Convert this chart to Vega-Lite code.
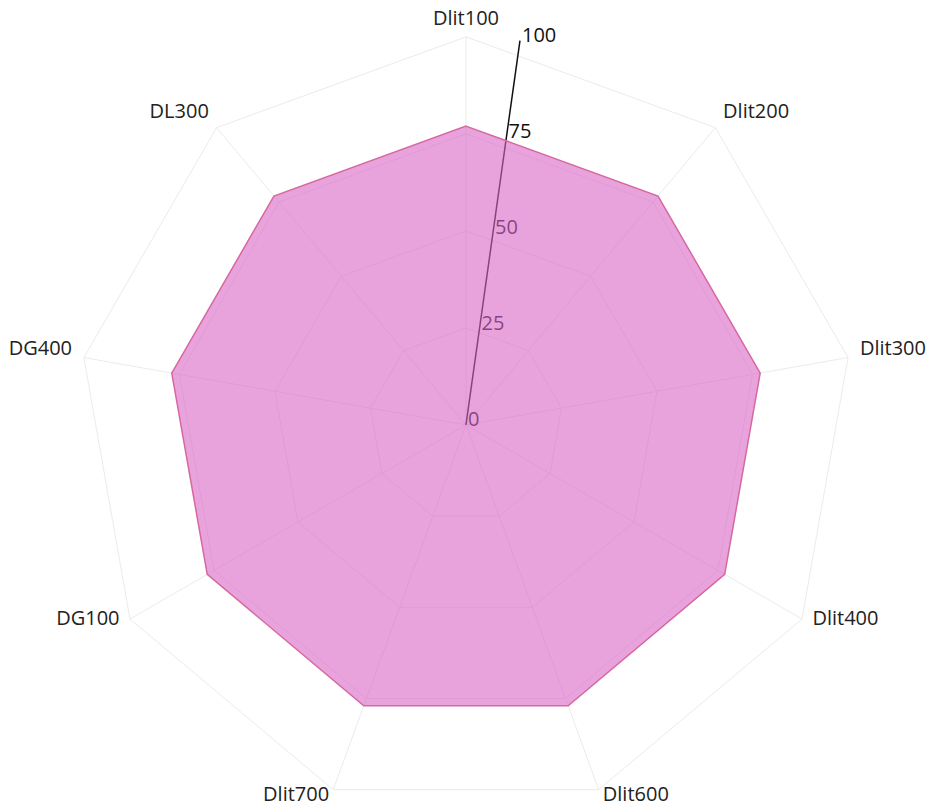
{
  "$schema": "https://vega.github.io/schema/vega-lite/v6.json",
  "width": 930,
  "height": 808,
  "padding": 0,
  "autosize": {"type": "none"},
  "background": "white",
  "config": {"view": {"stroke": null}, "font": "Open Sans"},
  "datasets": {
    "scores": [
      {"axis": "Dlit100", "value": 77},
      {"axis": "Dlit200", "value": 77},
      {"axis": "Dlit300", "value": 77},
      {"axis": "Dlit400", "value": 77},
      {"axis": "Dlit600", "value": 77},
      {"axis": "Dlit700", "value": 77},
      {"axis": "DG100", "value": 77},
      {"axis": "DG400", "value": 77},
      {"axis": "DL300", "value": 77}
    ],
    "grid": [
      {"axis": "Dlit100", "level": 25}, {"axis": "Dlit200", "level": 25}, {"axis": "Dlit300", "level": 25}, {"axis": "Dlit400", "level": 25}, {"axis": "Dlit600", "level": 25}, {"axis": "Dlit700", "level": 25}, {"axis": "DG100", "level": 25}, {"axis": "DG400", "level": 25}, {"axis": "DL300", "level": 25},
      {"axis": "Dlit100", "level": 50}, {"axis": "Dlit200", "level": 50}, {"axis": "Dlit300", "level": 50}, {"axis": "Dlit400", "level": 50}, {"axis": "Dlit600", "level": 50}, {"axis": "Dlit700", "level": 50}, {"axis": "DG100", "level": 50}, {"axis": "DG400", "level": 50}, {"axis": "DL300", "level": 50},
      {"axis": "Dlit100", "level": 75}, {"axis": "Dlit200", "level": 75}, {"axis": "Dlit300", "level": 75}, {"axis": "Dlit400", "level": 75}, {"axis": "Dlit600", "level": 75}, {"axis": "Dlit700", "level": 75}, {"axis": "DG100", "level": 75}, {"axis": "DG400", "level": 75}, {"axis": "DL300", "level": 75},
      {"axis": "Dlit100", "level": 100}, {"axis": "Dlit200", "level": 100}, {"axis": "Dlit300", "level": 100}, {"axis": "Dlit400", "level": 100}, {"axis": "Dlit600", "level": 100}, {"axis": "Dlit700", "level": 100}, {"axis": "DG100", "level": 100}, {"axis": "DG400", "level": 100}, {"axis": "DL300", "level": 100}
    ],
    "ticks": [{"tick": 0}, {"tick": 25}, {"tick": 50}, {"tick": 75}, {"tick": 100}]
  },
  "encoding": {
    "x": {"field": "x", "type": "quantitative", "scale": {"domain": [-120.1, 119.6], "nice": false, "zero": false}, "axis": null},
    "y": {"field": "y", "type": "quantitative", "scale": {"domain": [-98.7, 109.5], "nice": false, "zero": false}, "axis": null}
  },
  "layer": [
    {
      "data": {"name": "grid"},
      "transform": [
        {"window": [{"op": "row_number", "as": "k"}], "groupby": ["level"]},
        {"calculate": "(datum.k - 1) * 2 * PI / 9", "as": "a"},
        {"calculate": "datum.level * sin(datum.a)", "as": "x"},
        {"calculate": "datum.level * cos(datum.a)", "as": "y"}
      ],
      "mark": {"type": "line", "interpolate": "linear-closed", "stroke": "#ebebeb", "strokeWidth": 1},
      "encoding": {"detail": {"field": "level"}, "order": {"field": "k", "type": "quantitative"}}
    },
    {
      "data": {"name": "scores"},
      "transform": [
        {"window": [{"op": "row_number", "as": "k"}]},
        {"calculate": "(datum.k - 1) * 2 * PI / 9", "as": "a"},
        {"calculate": "0 * datum.k", "as": "x"},
        {"calculate": "0 * datum.k", "as": "y"},
        {"calculate": "100 * sin(datum.a)", "as": "xe"},
        {"calculate": "100 * cos(datum.a)", "as": "ye"}
      ],
      "mark": {"type": "rule", "color": "#ebebeb", "strokeWidth": 1},
      "encoding": {
        "x2": {"field": "xe"},
        "y2": {"field": "ye"}
      }
    },
    {
      "data": {"name": "ticks"},
      "transform": [
        {"filter": "datum.tick == 100"},
        {"calculate": "0 * datum.tick", "as": "x"},
        {"calculate": "0 * datum.tick", "as": "y"},
        {"calculate": "datum.tick * sin(8 * PI / 180)", "as": "xe"},
        {"calculate": "datum.tick * cos(8 * PI / 180)", "as": "ye"}
      ],
      "mark": {"type": "rule", "color": "#111111", "strokeWidth": 1.5},
      "encoding": {
        "x2": {"field": "xe"},
        "y2": {"field": "ye"}
      }
    },
    {
      "data": {"name": "ticks"},
      "transform": [
        {"calculate": "datum.tick * sin(8 * PI / 180)", "as": "x"},
        {"calculate": "datum.tick * cos(8 * PI / 180)", "as": "y"}
      ],
      "mark": {"type": "text", "align": "left", "baseline": "middle", "dx": 2, "dy": -5, "fontSize": 20, "color": "#111111"},
      "encoding": {"text": {"field": "tick", "type": "quantitative"}}
    },
    {
      "data": {"name": "scores"},
      "transform": [
        {"window": [{"op": "row_number", "as": "k"}]},
        {"calculate": "(datum.k - 1) * 2 * PI / 9", "as": "a"},
        {"calculate": "datum.value * sin(datum.a)", "as": "x"},
        {"calculate": "datum.value * cos(datum.a)", "as": "y"}
      ],
      "mark": {"type": "line", "interpolate": "linear-closed", "fill": "#d866c6", "fillOpacity": 0.6, "stroke": "#d7689f", "strokeWidth": 1.5},
      "encoding": {"order": {"field": "k", "type": "quantitative"}}
    },
    {
      "data": {"name": "scores"},
      "transform": [
        {"window": [{"op": "row_number", "as": "k"}]},
        {"calculate": "(datum.k - 1) * 2 * PI / 9", "as": "a"},
        {"calculate": "sin(datum.a)", "as": "s"},
        {"filter": "datum.s > 0.01"},
        {"calculate": "103.1 * datum.s", "as": "x"},
        {"calculate": "103.1 * cos(datum.a)", "as": "y"}
      ],
      "mark": {"type": "text", "align": "left", "baseline": "middle", "dy": -6, "fontSize": 20, "color": "#222222"},
      "encoding": {"text": {"field": "axis"}}
    },
    {
      "data": {"name": "scores"},
      "transform": [
        {"window": [{"op": "row_number", "as": "k"}]},
        {"calculate": "(datum.k - 1) * 2 * PI / 9", "as": "a"},
        {"calculate": "sin(datum.a)", "as": "s"},
        {"filter": "datum.s < -0.01"},
        {"calculate": "103.1 * datum.s", "as": "x"},
        {"calculate": "103.1 * cos(datum.a)", "as": "y"}
      ],
      "mark": {"type": "text", "align": "right", "baseline": "middle", "dy": -6, "fontSize": 20, "color": "#222222"},
      "encoding": {"text": {"field": "axis"}}
    },
    {
      "data": {"name": "scores"},
      "transform": [
        {"window": [{"op": "row_number", "as": "k"}]},
        {"calculate": "(datum.k - 1) * 2 * PI / 9", "as": "a"},
        {"calculate": "sin(datum.a)", "as": "s"},
        {"filter": "abs(datum.s) <= 0.01"},
        {"calculate": "103.1 * datum.s", "as": "x"},
        {"calculate": "103.1 * cos(datum.a)", "as": "y"}
      ],
      "mark": {"type": "text", "align": "center", "baseline": "middle", "dy": -6, "fontSize": 20, "color": "#222222"},
      "encoding": {"text": {"field": "axis"}}
    }
  ]
}
